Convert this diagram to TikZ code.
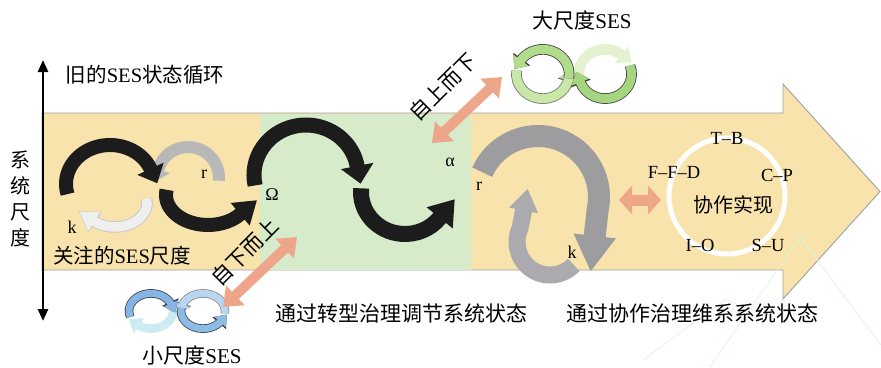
\documentclass[tikz,border=0pt]{standalone}
\usepackage{fontspec}
\setmainfont{Liberation Serif}
\newfontfamily\cjk{Noto Sans CJK SC}
\usetikzlibrary{arrows.meta}
\definecolor{bodyY}{HTML}{F8E3AC}
\definecolor{bodyG}{HTML}{D6EBCA}
\definecolor{edgeG}{HTML}{A0A0A0}
\definecolor{salmon}{HTML}{EEA68B}
\definecolor{arcK}{HTML}{1C1C1C}
\definecolor{arcR}{HTML}{B8B8B8}
\definecolor{arcW}{HTML}{EFEFEF}
\definecolor{arcWe}{HTML}{C8C8C8}
\definecolor{arcG}{HTML}{9D9DA0}
\definecolor{arcGi}{HTML}{ABABAF}
\definecolor{bluA}{HTML}{86B4E4}
\definecolor{bluB}{HTML}{B9D6F0}
\definecolor{bluC}{HTML}{CDEBF2}
\definecolor{bluD}{HTML}{8DBBE8}
\definecolor{grnA}{HTML}{A5D67F}
\definecolor{grnB}{HTML}{C9E8A8}
\definecolor{grnC}{HTML}{E4F2CF}
\definecolor{grnD}{HTML}{B0DC8C}
\definecolor{wmark}{HTML}{DDF5DD}
\newcommand\fs[1]{\fontsize{#1}{#1}\selectfont}
\newcommand\zh[1]{{\cjk #1}}
\newcommand\iconarc[3]{%
  \draw[line width=\ibo, #2, -{Triangle[width=\iho,length=\ilo]}] #3;
  \draw[line width=\ib, #1, -{Triangle[width=\ih,length=\il]}] #3;}
\newcommand\cycicon[7]{%
  \begin{scope}[#1]
    \iconarc{#3}{#6}{(26,0) ++(8:22) arc[start angle=8,end angle=-165,radius=22] -- ++(105:10)}
    \iconarc{#4}{#7}{(-26,0) ++(-5:22) arc[start angle=-5,end angle=130,radius=22] -- ++(220:10)}
    \iconarc{#2}{black!75}{(-26,0) ++(160:22) arc[start angle=160,end angle=340,radius=22] -- ++(70:10)}
    \iconarc{#5}{black!75}{(26,0) ++(190:22) arc[start angle=190,end angle=35,radius=22] -- ++(-55:10)}
  \end{scope}}
\tikzset{
  lab/.style={inner sep=0pt, text=black},
  salmonarrow/.style={draw=salmon, line width=10pt,
    {Triangle[width=26pt,length=17pt]}-{Triangle[width=26pt,length=17pt]}},
}
\begin{document}
\begin{tikzpicture}[x=1pt,y=1pt,yscale=-1]
\useasboundingbox (0,0) rectangle (881,367);
% ---- big arrow body
\path[fill=bodyY, draw=edgeG, line width=0.9pt]
  (42,113) -- (783,113) -- (783,84) -- (880,191.5) -- (783,299) -- (783,270) -- (42,270) -- cycle;
\fill[bodyG] (260,113.5) rectangle (471,269.5);
% ---- faint watermark lines
\draw[wmark, line width=0.8pt] (710,367) -- (800,237) -- (881,345);
\draw[wmark, line width=0.8pt] (643,360) -- (725,300) -- (757,312);
% ---- white circle
\draw[white, line width=5pt] (727,196) circle[radius=58];
% ---- vertical axis
\coordinate (ax1) at (43,60);
\coordinate (ax2) at (43,321);
\draw[line width=2.6pt, {Triangle[width=10pt,length=12pt]}-{Triangle[width=10pt,length=12pt]}] (ax1) -- (ax2);
% ---- left cluster
\draw[arcR, line width=12pt, -{Triangle[width=24pt,length=12pt]}]
  (188,178) ++(5:31) arc[start angle=5,end angle=-165,radius=31] -- ++(105:12);
\draw[arcWe, line width=11.5pt, -{Triangle[width=23pt,length=20pt]}]
  (115,203) ++(-10:32 and 24) arc[start angle=-10,end angle=130,x radius=32,y radius=24] -- ++(212:19);
\draw[arcW, line width=9.5pt, -{Triangle[width=21pt,length=18pt]}]
  (115,203) ++(-10:32 and 24) arc[start angle=-10,end angle=130,x radius=32,y radius=24] -- ++(212:18);
\draw[arcK, line width=14pt, -{Triangle[width=28pt,length=16pt]}]
  (110,184) ++(165:44 and 39) arc[start angle=165,end angle=337,x radius=44,y radius=39] -- ++(65:16);
\draw[arcK, line width=14pt, -{Triangle[width=28pt,length=22pt]}]
  (208,195) ++(190:42 and 30) arc[start angle=190,end angle=40,x radius=42,y radius=30] -- ++(-40:22);
% ---- middle S curve
\draw[arcK, line width=15pt, -{Triangle[width=32pt,length=18pt]}]
  (306,175) ++(168:52 and 50) arc[start angle=168,end angle=349.6,x radius=52,y radius=50] -- ++(79:18);
\draw[arcK, line width=16pt, -{Triangle[width=32pt,length=24pt]}]
  (405,192) ++(185:44 and 42) arc[start angle=185,end angle=38,x radius=44,y radius=42] -- ++(-51:24);
% ---- right grey arcs
\draw[arcGi, line width=17pt, -{Triangle[width=28pt,length=22pt]}]
  (550,242) ++(44:33) arc[start angle=44,end angle=205,radius=33] -- ++(281:40);
\draw[arcG, line width=22pt, -{Triangle[width=40pt,length=36pt]}]
  (538,197) ++(204:61) arc[start angle=204,end angle=372,radius=61] -- ++(-7,62);
% ---- icons
\def\ib{7pt}\def\ibo{8.6pt}\def\ih{15pt}\def\iho{17.5pt}\def\il{10pt}\def\ilo{11.5pt}
\cycicon{shift={(177,311)},yscale=0.8}{bluA}{bluB}{bluC}{bluD}{black!45}{bluC}
\def\ib{9pt}\def\ibo{10.6pt}\def\ih{18pt}\def\iho{20.5pt}\def\il{11pt}\def\ilo{12.5pt}
\cycicon{shift={(574,74)},rotate=180,xscale=1.2,yscale=1.12}{grnA}{grnB}{grnC}{grnD}{black!55}{grnC}
% ---- salmon arrows
\coordinate (bu1) at (223,307);
\coordinate (bu2) at (297,237);
\draw[salmonarrow] (bu1) -- (bu2);
\coordinate (td1) at (432,143);
\coordinate (td2) at (502,77);
\draw[salmonarrow] (td1) -- (td2);
\coordinate (h1) at (619,200);
\coordinate (h2) at (661,200);
\draw[draw=salmon, line width=11pt, {Triangle[width=28pt,length=13pt]}-{Triangle[width=28pt,length=13pt]}] (h1) -- (h2);
% ---- texts
\node[lab, font=\fs{20.5}] (old) at (145,75) {\zh{旧的}SES\zh{状态循环}};
\node[lab, font=\fs{20.5}] (focus) at (122,256) {\zh{关注的}SES\zh{尺度}};
\node[lab, font=\cjk\fontsize{20}{26}\selectfont, align=center] (sys) at (20,199) {系\\统\\尺\\度};
\node[lab, font=\cjk\fs{21}] (cap1) at (401,313) {通过转型治理调节系统状态};
\node[lab, font=\cjk\fs{21}] (cap2) at (692,313) {通过协作治理维系系统状态};
\node[lab, font=\fs{21}] (big) at (582,21) {\zh{大尺度}SES};
\node[lab, font=\fs{21}] (small) at (192,356) {\zh{小尺度}SES};
\node[lab, font=\cjk\fs{21}, rotate=45] (bu) at (245,252) {自下而上};
\node[lab, font=\cjk\fs{21}, rotate=45] (td) at (443,87) {自上而下};
\node[lab, font=\cjk\fs{20}] (coop) at (733,205) {协作实现};
\node[lab, font=\fs{18.5}] (tb) at (727,138) {T–B};
\node[lab, font=\fs{18.5}] (cp) at (777,175) {C–P};
\node[lab, font=\fs{18.5}] (ffd) at (674,172) {F–F–D};
\node[lab, font=\fs{18.5}] (io) at (700,245) {I–O};
\node[lab, font=\fs{18.5}] (su) at (768,245) {S–U};
\node[lab, font=\fs{18}] (r1) at (204,174) {r};
\node[lab, font=\fs{18}] (k1) at (72,227) {k};
\node[lab, font=\fs{18}] (om) at (272,195) {Ω};
\node[lab, font=\fs{18}] (al) at (450,162) {α};
\node[lab, font=\fs{18}] (r2) at (479,186) {r};
\node[lab, font=\fs{18}] (k2) at (572,252) {k};
\end{tikzpicture}
\end{document}
